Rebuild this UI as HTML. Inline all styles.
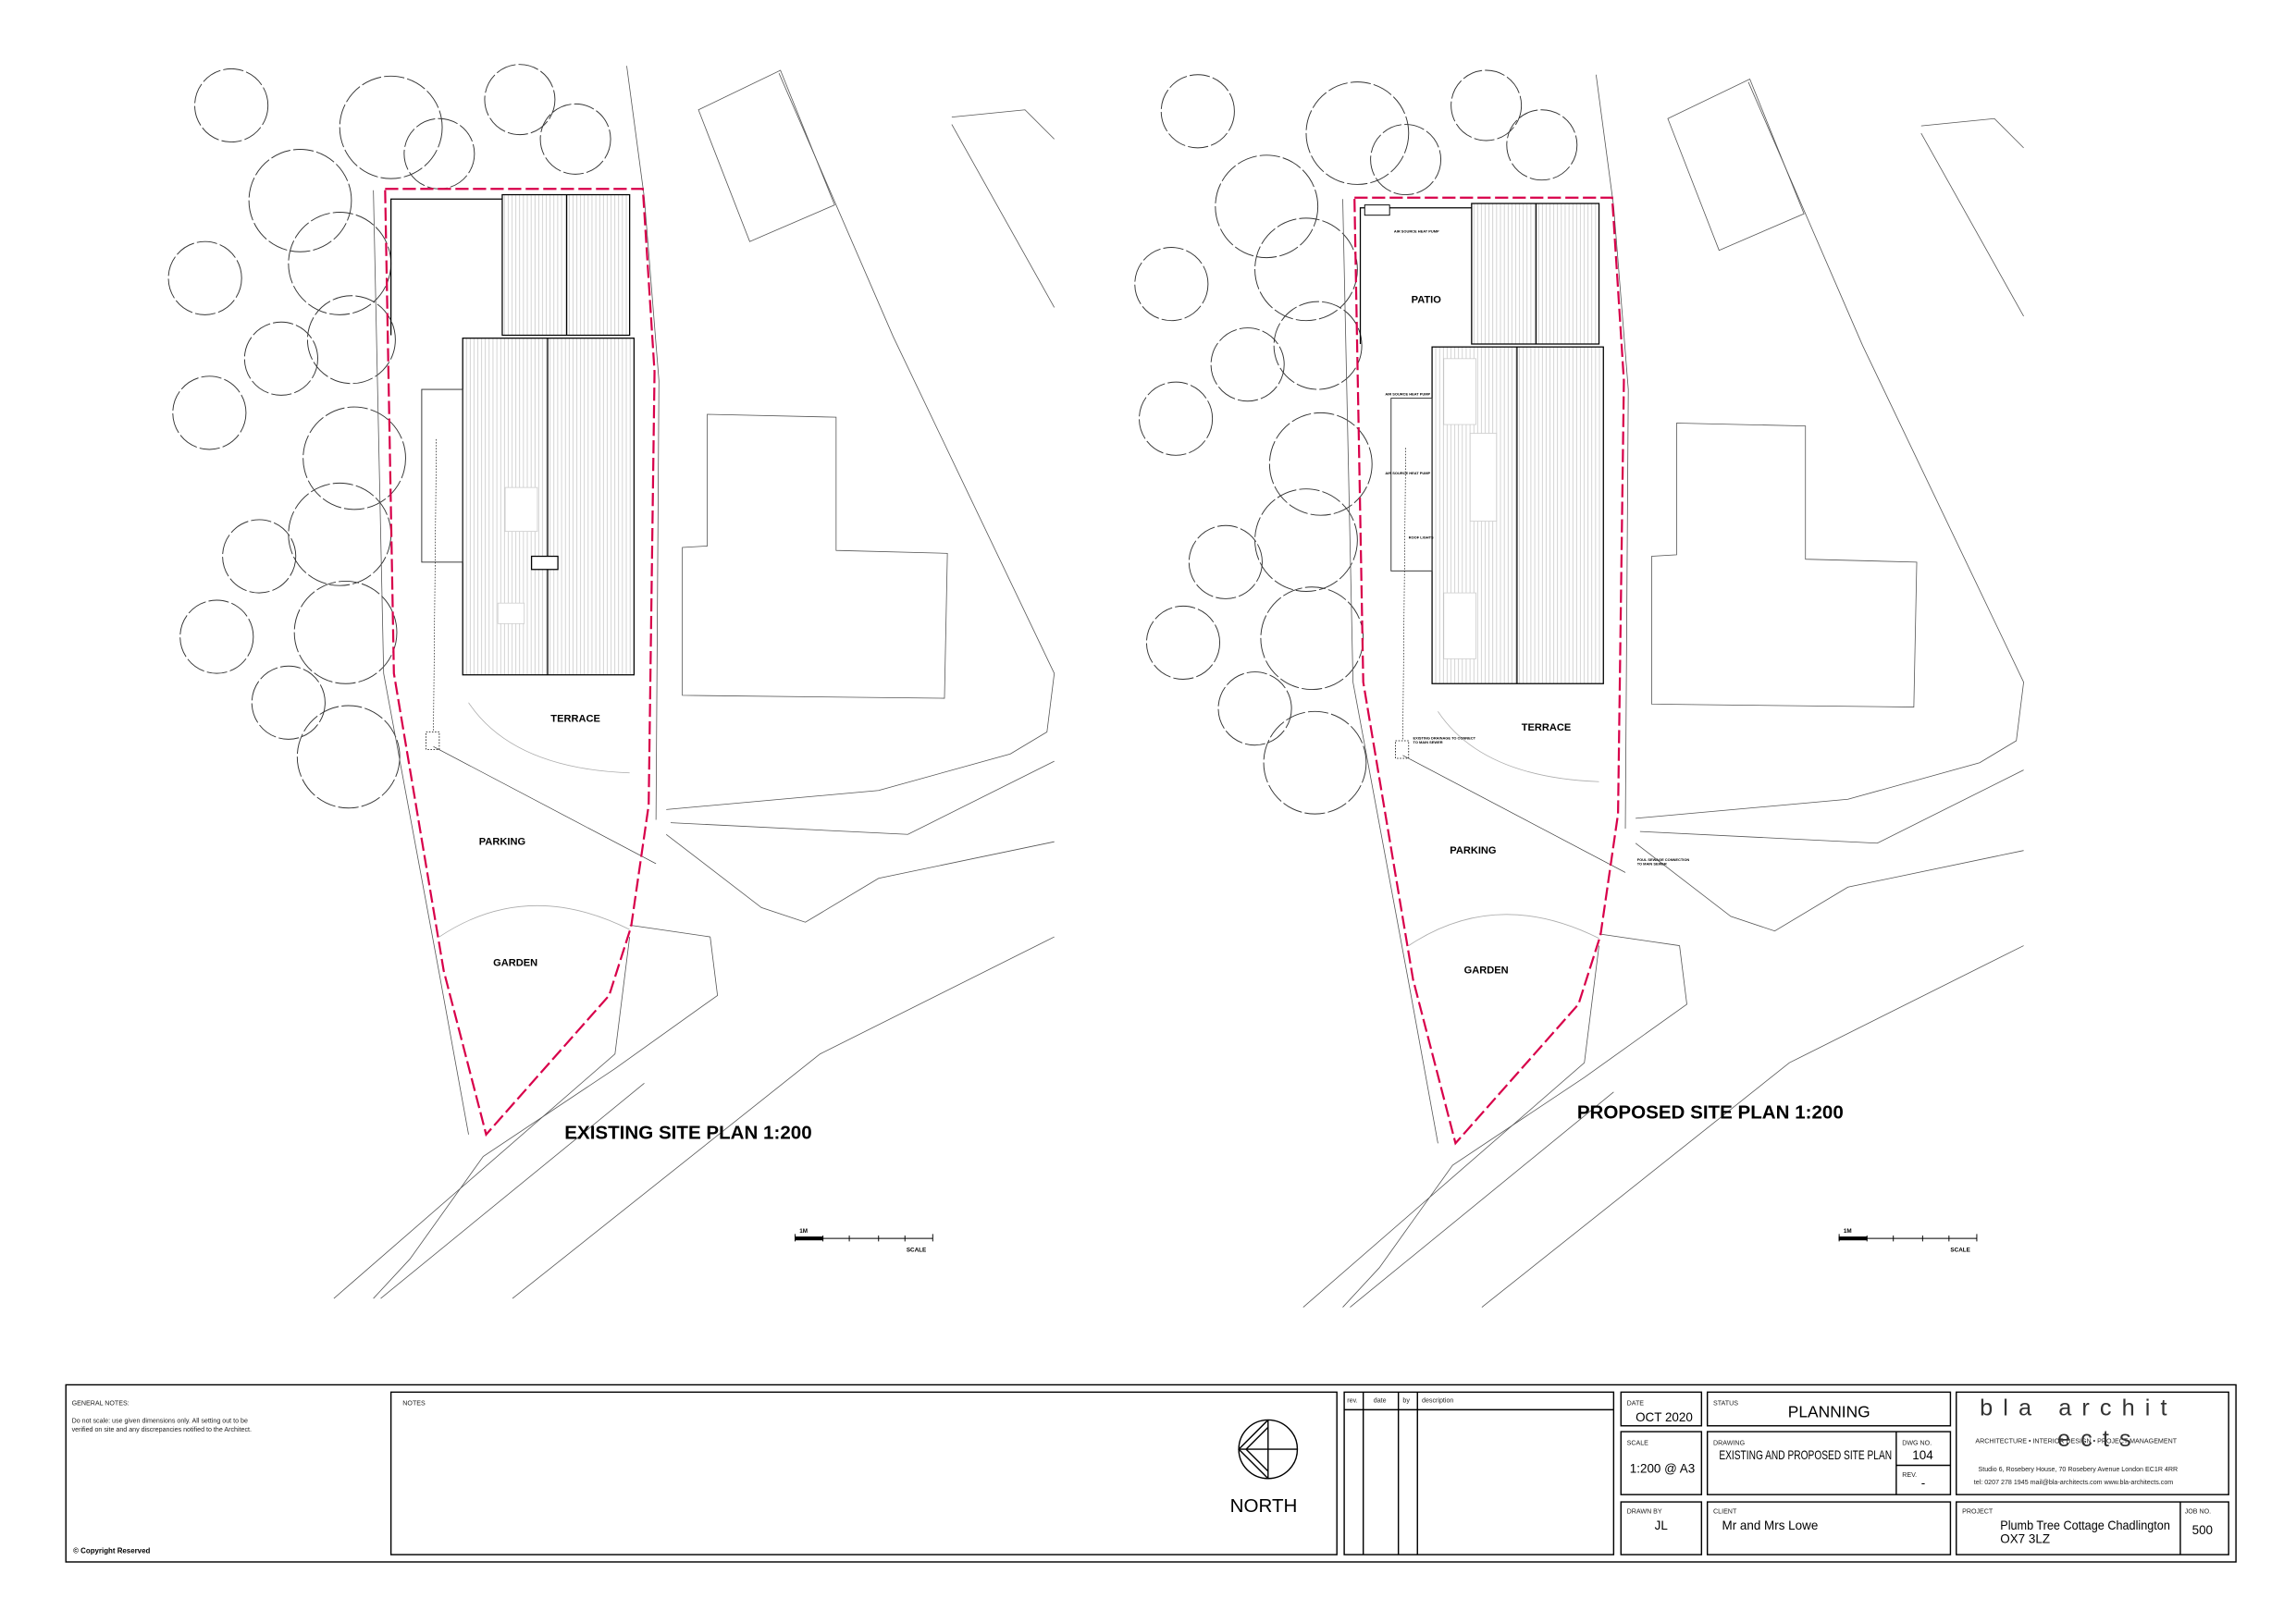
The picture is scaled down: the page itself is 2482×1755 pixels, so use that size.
<!DOCTYPE html>
<html><head><meta charset="utf-8"><style>
html,body{margin:0;padding:0;background:#fff}
svg{display:block}
text{font-family:"Liberation Sans",sans-serif}
</style></head><body>
<svg width="2482" height="1755" viewBox="0 0 1568 1108.7" xmlns="http://www.w3.org/2000/svg">
<defs>
<pattern id="h" width="2.6" height="10" patternUnits="userSpaceOnUse"><line x1="1.3" y1="0" x2="1.3" y2="10" stroke="#bbb" stroke-width="0.4"/></pattern>
<g id="trees" fill="none" stroke="#333" stroke-width="0.6" stroke-dasharray="14 2">
<circle cx="158" cy="72" r="25"/><circle cx="267" cy="87" r="35"/><circle cx="355" cy="68" r="24"/><circle cx="300" cy="105" r="24"/><circle cx="393" cy="95" r="24"/>
<circle cx="205" cy="137" r="35"/><circle cx="140" cy="190" r="25"/><circle cx="232" cy="180" r="35"/><circle cx="192" cy="245" r="25"/><circle cx="240" cy="232" r="30"/>
<circle cx="143" cy="282" r="25"/><circle cx="242" cy="313" r="35"/><circle cx="177" cy="380" r="25"/><circle cx="232" cy="365" r="35"/><circle cx="148" cy="435" r="25"/>
<circle cx="236" cy="432" r="35"/><circle cx="197" cy="480" r="25"/><circle cx="238" cy="517" r="35"/>
</g>
<g id="site">
<g fill="none" stroke="#555" stroke-width="0.5">
<polygon points="477,75 533,48 570,140 512,165"/>
<polygon points="483,283 571,285 571,376 647,378 645,477 466,475 466,374 483,373"/>
<polyline points="428,45 440,135 450,260 448,560"/>
<polyline points="532,50 610,230 720,460 715,500 690,515 600,540 455,553"/>
<polyline points="650,80 700,75 720,95"/>
<polyline points="650,85 720,210"/>
<polyline points="458,562 620,570 720,520"/>
<polyline points="455,570 520,620 550,630 600,600 720,575"/>
<polyline points="228,887 420,720 430,640"/>
<polyline points="260,887 440,740"/>
<polyline points="485,640 490,680 420,730 330,790 280,860 255,887"/>
<polyline points="350,887 560,720 720,640"/>
<polyline points="430,632 485,640"/>
<polyline points="255,130 262,460 300,665 320,775"/>
<path d="M320,480 Q350,525 430,528" stroke="#aaa"/>
<path d="M300,640 Q360,600 430,635" stroke="#aaa"/>
</g>
<path d="M267,229 V136 H343" fill="none" stroke="#000" stroke-width="0.8"/>
<rect x="343" y="133" width="87" height="96" fill="url(#h)" stroke="#000" stroke-width="0.8"/>
<line x1="387" y1="133" x2="387" y2="229" stroke="#000" stroke-width="0.8"/>
<rect x="316" y="231" width="117" height="230" fill="url(#h)" stroke="#000" stroke-width="0.8"/>
<line x1="374" y1="231" x2="374" y2="461" stroke="#000" stroke-width="0.8"/>
<rect x="288" y="266" width="28" height="118" fill="none" stroke="#333" stroke-width="0.6"/>
<rect x="291" y="500" width="9" height="12" fill="none" stroke="#000" stroke-width="0.5" stroke-dasharray="1 1"/>
<line x1="298" y1="300" x2="296" y2="500" stroke="#000" stroke-width="0.4" stroke-dasharray="1 1"/>
<line x1="296" y1="510" x2="448" y2="590" stroke="#333" stroke-width="0.4"/>
<polyline points="263,129 439,129 447,254 443,550 431,633 416,680 332,775 303,663 269,460 263,129" fill="none" stroke="#d8004a" stroke-width="1.4" stroke-dasharray="9 3"/>
</g>
</defs>
<use href="#trees"/>
<use href="#trees" transform="translate(660,4)"/>
<use href="#site"/>
<use href="#site" transform="translate(662,6)"/>
<rect x="345" y="333" width="22" height="30" fill="#fff" stroke="#ccc" stroke-width="0.5"/>
<rect x="363" y="380" width="18" height="9" fill="#fff" stroke="#000" stroke-width="0.8"/>
<rect x="340" y="412" width="18" height="14" fill="#fff" stroke="#ccc" stroke-width="0.5"/>
<g font-size="7" font-weight="bold" text-anchor="middle">
<text x="393" y="493">TERRACE</text><text x="343" y="577">PARKING</text><text x="352" y="660">GARDEN</text>
<text x="974" y="207">PATIO</text><text x="1056" y="499">TERRACE</text><text x="1006" y="583">PARKING</text><text x="1015" y="665">GARDEN</text>
</g>
<text x="470" y="778" font-size="13" font-weight="bold" text-anchor="middle">EXISTING  SITE PLAN  1:200</text>
<text x="1168" y="764" font-size="13" font-weight="bold" text-anchor="middle">PROPOSED  SITE PLAN  1:200</text>
<rect x="932" y="140" width="17" height="7" fill="#fff" stroke="#000" stroke-width="0.6"/>
<rect x="986" y="245" width="22" height="45" fill="#fff" stroke="#ccc" stroke-width="0.5"/>
<rect x="1004" y="296" width="18" height="60" fill="#fff" stroke="#ccc" stroke-width="0.5"/>
<rect x="986" y="405" width="22" height="45" fill="#fff" stroke="#ccc" stroke-width="0.5"/>
<g font-size="2.5" font-weight="bold"><text x="952" y="159">AIR SOURCE HEAT PUMP</text><text x="946" y="270">AIR SOURCE HEAT PUMP</text><text x="946" y="324">AIR SOURCE HEAT PUMP</text><text x="962" y="368">ROOF LIGHTS</text><text x="965" y="505">EXISTING DRAINAGE TO CONNECT</text><text x="965" y="508">TO MAIN SEWER</text><text x="1118" y="588">FOUL SEWAGE CONNECTION</text><text x="1118" y="591">TO MAIN SEWER</text></g>
<g stroke="#000" stroke-width="0.6" fill="none">
<path d="M543,846 H637 M543,843 V848 M562,844 V848 M580,844 V848 M600,844 V848 M618,844 V848 M637,843 V848"/>
<path d="M1256,846 H1350 M1256,843 V848 M1275,844 V848 M1293,844 V848 M1313,844 V848 M1331,844 V848 M1350,843 V848"/>
<rect x="543" y="845" width="19" height="2" fill="#000"/><rect x="1256" y="845" width="19" height="2" fill="#000"/>
</g>
<g font-size="4" font-weight="bold"><text x="546" y="842">1M</text><text x="619" y="855">SCALE</text><text x="1259" y="842">1M</text><text x="1332" y="855">SCALE</text></g>
<g fill="none" stroke="#000" stroke-width="0.9">
<rect x="45" y="946" width="1482" height="121"/>
<rect x="267" y="951" width="646" height="111"/>
<rect x="918" y="951" width="184" height="111"/>
<line x1="918" y1="963" x2="1102" y2="963"/><line x1="931" y1="951" x2="931" y2="1062"/><line x1="955" y1="951" x2="955" y2="1062"/><line x1="968" y1="951" x2="968" y2="1062"/>
<rect x="1107" y="951" width="55" height="23"/><rect x="1166" y="951" width="166" height="23"/>
<rect x="1107" y="978" width="55" height="43"/><rect x="1166" y="978" width="166" height="43"/>
<line x1="1295" y1="978" x2="1295" y2="1021"/><line x1="1295" y1="1001" x2="1332" y2="1001"/>
<rect x="1336" y="951" width="186" height="70"/>
<rect x="1107" y="1026" width="55" height="36"/><rect x="1166" y="1026" width="166" height="36"/>
<rect x="1336" y="1026" width="186" height="36"/><line x1="1489" y1="1026" x2="1489" y2="1062"/>
<circle cx="866" cy="990" r="20"/><line x1="846" y1="990" x2="886" y2="990"/><line x1="866" y1="970" x2="866" y2="1010"/>
<polyline points="866,970 846,990 866,1010"/><polyline points="866,975 851,990 866,1005"/>
</g>
<g font-size="4.5" fill="#222">
<text x="49" y="960">GENERAL NOTES:</text>
<text x="49" y="972">Do not scale: use given dimensions only. All setting out to be</text>
<text x="49" y="978">verified on site and any discrepancies notified to the Architect.</text>
<text x="275" y="960">NOTES</text>
<text x="920" y="958">rev.</text><text x="938" y="958">date</text><text x="958" y="958">by</text><text x="971" y="958">description</text>
<text x="1111" y="960">DATE</text><text x="1170" y="960">STATUS</text><text x="1111" y="987">SCALE</text><text x="1170" y="987">DRAWING</text><text x="1299" y="987">DWG NO.</text><text x="1299" y="1009">REV.</text>
<text x="1111" y="1034">DRAWN BY</text><text x="1170" y="1034">CLIENT</text><text x="1340" y="1034">PROJECT</text><text x="1492" y="1034">JOB NO.</text>
<text x="1349" y="986">ARCHITECTURE • INTERIOR DESIGN • PROJECT MANAGEMENT</text>
<text x="1351" y="1005">Studio 6, Rosebery House, 70 Rosebery Avenue  London EC1R 4RR</text>
<text x="1348" y="1014">tel: 0207 278 1945  mail@bla-architects.com  www.bla-architects.com</text>
</g>
<text x="50" y="1061" font-size="5" font-weight="bold">© Copyright Reserved</text>
<g font-size="8.5">
<text x="1117" y="971">OCT 2020</text><text x="1113" y="1006">1:200 @ A3</text>
<text x="1174" y="997" textLength="118" lengthAdjust="spacingAndGlyphs">EXISTING AND PROPOSED SITE PLAN</text><text x="1306" y="997">104</text><text x="1312" y="1016">-</text>
<text x="1130" y="1045">JL</text><text x="1176" y="1045">Mr and Mrs Lowe</text>
<text x="1366" y="1045" textLength="116" lengthAdjust="spacingAndGlyphs">Plumb Tree Cottage Chadlington</text><text x="1366" y="1054">OX7 3LZ</text><text x="1497" y="1048">500</text>
</g>
<text x="1221" y="968" font-size="11">PLANNING</text>
<text x="840" y="1033" font-size="13">NORTH</text>
<text x="1352" y="967" font-size="16" letter-spacing="7" fill="#333">bla archit</text>
<text x="1405" y="988" font-size="16" letter-spacing="7" fill="#333">ects</text>
</svg>
</body></html>
